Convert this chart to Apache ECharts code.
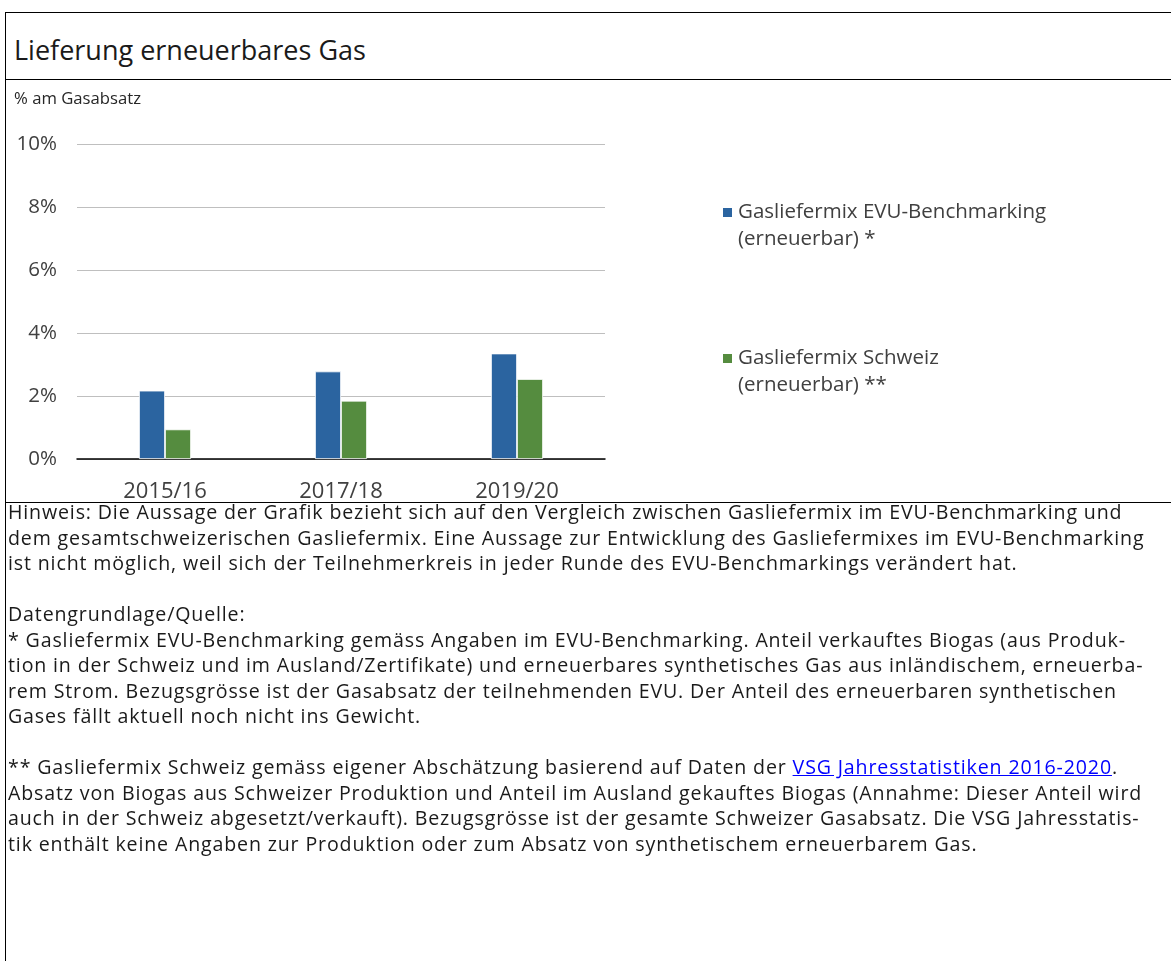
<!DOCTYPE html>
<html lang="de">
<head>
<meta charset="utf-8">
<title>Lieferung erneuerbares Gas</title>
<script src="https://cdn.jsdelivr.net/npm/echarts@6/dist/echarts.min.js"></script>
<style>
  html, body { margin: 0; padding: 0; background: #fff; }
  body { width: 1171px; height: 961px; position: relative; overflow: hidden;
         font-family: "Open Sans", sans-serif; color: #1a1a1a; }
  #chart { position: absolute; left: 0; top: 0; width: 1171px; height: 961px; }
  .frame-left { position: absolute; left: 5px; top: 12px; width: 1px; height: 949px; background: #000; }
  .rule { position: absolute; left: 5px; width: 1166px; height: 1px; background: #000; }
  .title { position: absolute; left: 14px; top: 31px; font-size: 27px; line-height: 38px; white-space: nowrap; }
  .notes { position: absolute; left: 8px; top: 499px; font-size: 19.6px; line-height: 25.5px; letter-spacing: 0.85px; white-space: nowrap; }
  .notes a { color: #0000ff; text-decoration: underline; }
</style>
</head>
<body>
<div class="frame-left"></div>
<div class="rule" style="top:12px"></div>
<div class="rule" style="top:79px"></div>
<div class="rule" style="top:502px"></div>
<div class="title">Lieferung erneuerbares Gas</div>
<div id="chart"></div>
<div class="notes">
Hinweis: Die Aussage der Grafik bezieht sich auf den Vergleich zwischen Gasliefermix im EVU-Benchmarking und<br>
dem gesamtschweizerischen Gasliefermix. Eine Aussage zur Entwicklung des Gasliefermixes im EVU-Benchmarking<br>
ist nicht möglich, weil sich der Teilnehmerkreis in jeder Runde des EVU-Benchmarkings verändert hat.<br>
<br>
Datengrundlage/Quelle:<br>
* Gasliefermix EVU-Benchmarking gemäss Angaben im EVU-Benchmarking. Anteil verkauftes Biogas (aus Produk-<br>
tion in der Schweiz und im Ausland/Zertifikate) und erneuerbares synthetisches Gas aus inländischem, erneuerba-<br>
rem Strom. Bezugsgrösse ist der Gasabsatz der teilnehmenden EVU. Der Anteil des erneuerbaren synthetischen<br>
Gases fällt aktuell noch nicht ins Gewicht.<br>
<br>
** Gasliefermix Schweiz gemäss eigener Abschätzung basierend auf Daten der <a>VSG Jahresstatistiken 2016-2020</a>.<br>
Absatz von Biogas aus Schweizer Produktion und Anteil im Ausland gekauftes Biogas (Annahme: Dieser Anteil wird<br>
auch in der Schweiz abgesetzt/verkauft). Bezugsgrösse ist der gesamte Schweizer Gasabsatz. Die VSG Jahresstatis-<br>
tik enthält keine Angaben zur Produktion oder zum Absatz von synthetischem erneuerbarem Gas.
</div>
<script>
// Survey rounds (x axis)
const rounds = ['2015/16', '2017/18', '2019/20'];
// Renewable share of gas sales, in percent
const evuBenchmarking = [2.17, 2.78, 3.35];
const schweiz = [0.94, 1.85, 2.54];
// Series names shown in the legend
const seriesNames = ['Gasliefermix EVU-Benchmarking\n(erneuerbar) *', 'Gasliefermix Schweiz\n(erneuerbar) **'];
// Value axis range and step
const yMin = 0, yMax = 10, yStep = 2;

const FONT = '"Open Sans", sans-serif';
const chart = echarts.init(document.getElementById('chart'), null, { renderer: 'canvas' });

chart.setOption({
  animation: false,
  backgroundColor: 'transparent',
  textStyle: { fontFamily: FONT },
  title: {
    text: '% am Gasabsatz',
    left: 9, top: 86,
    textStyle: { fontFamily: FONT, fontSize: 16.7, fontWeight: 'normal', color: '#262626' }
  },
  legend: {
    orient: 'vertical',
    left: 716, top: 167,
    itemWidth: 11, itemHeight: 11,
    itemGap: 65,
    icon: 'rect',
    // leading blank line keeps the marker level with the first text line
    formatter: name => '\n' + name,
    textStyle: { fontFamily: FONT, fontSize: 20.5, color: '#404040', lineHeight: 27 },
    data: seriesNames
  },
  grid: { left: 77, top: 144, width: 528, height: 315, containLabel: false },
  xAxis: {
    type: 'category',
    data: rounds,
    axisLine: { show: true, lineStyle: { color: '#000', width: 1.5 } },
    axisTick: { show: false },
    axisLabel: { fontFamily: FONT, fontSize: 22, color: '#404040', margin: 22 }
  },
  yAxis: {
    type: 'value',
    min: yMin, max: yMax, interval: yStep,
    axisLine: { show: false },
    axisTick: { show: false },
    splitLine: { lineStyle: { color: '#bfbfbf', width: 1 } },
    axisLabel: { fontFamily: FONT, fontSize: 20.5, color: '#404040', margin: 20, formatter: '{value}%' }
  },
  series: [
    {
      name: seriesNames[0], type: 'bar', data: evuBenchmarking,
      barWidth: 26, barGap: '0%',
      itemStyle: { color: '#2b64a0', borderColor: '#ffffff', borderWidth: 0.8 }
    },
    {
      name: seriesNames[1], type: 'bar', data: schweiz,
      barWidth: 26, barGap: '0%',
      itemStyle: { color: '#558c3f', borderColor: '#ffffff', borderWidth: 0.8 }
    }
  ]
});
</script>
</body>
</html>
